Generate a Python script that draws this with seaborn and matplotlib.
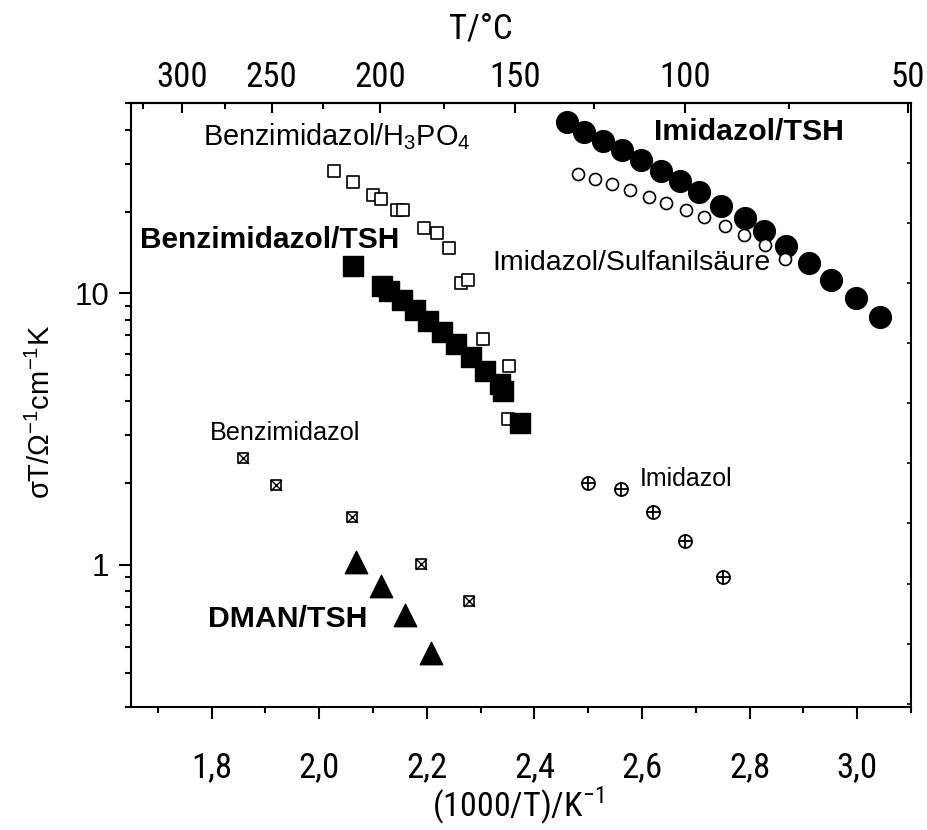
import numpy as np
import pandas as pd
import matplotlib
matplotlib.use("Agg")
import matplotlib.pyplot as plt
import seaborn as sns
from matplotlib import font_manager
from matplotlib.font_manager import FontProperties
from matplotlib.ticker import FixedLocator, NullFormatter, FixedFormatter

# ---------------- data ----------------
imid_tsh_x = [2.461, 2.493, 2.527, 2.563, 2.599, 2.635, 2.670, 2.706, 2.747, 2.791, 2.826, 2.868, 2.911, 2.952, 2.998, 3.043]
imid_tsh_y = [42.6, 39.4, 36.5, 33.8, 31.0, 28.3, 26.0, 23.7, 21.0, 18.9, 16.9, 14.9, 12.9, 11.2, 9.6, 8.2]

imid_sulf_x = [2.481, 2.512, 2.545, 2.578, 2.613, 2.645, 2.681, 2.716, 2.754, 2.789, 2.828, 2.865]
imid_sulf_y = [27.6, 26.4, 25.3, 24.0, 22.7, 21.5, 20.3, 19.1, 17.7, 16.4, 15.1, 13.4]

benz_h3po4_x = [2.027, 2.062, 2.099, 2.114, 2.144, 2.155, 2.194, 2.218, 2.241, 2.264, 2.277, 2.304, 2.352, 2.351]
benz_h3po4_y = [28.3, 25.6, 23.1, 22.2, 20.2, 20.3, 17.4, 16.7, 14.7, 10.9, 11.2, 6.80, 5.41, 3.45]

benz_tsh_x = [2.062, 2.116, 2.129, 2.153, 2.178, 2.202, 2.228, 2.254, 2.282, 2.309, 2.336, 2.341, 2.373]
benz_tsh_y = [12.6, 10.66, 10.2, 9.46, 8.70, 7.92, 7.21, 6.52, 5.84, 5.18, 4.64, 4.37, 3.33]

benz_x = [1.859, 1.919, 2.060, 2.189, 2.278]
benz_y = [2.47, 1.97, 1.50, 1.006, 0.737]

dman_x = [2.069, 2.114, 2.159, 2.207]
dman_y = [1.028, 0.837, 0.654, 0.473]

imid_x = [2.50, 2.56, 2.62, 2.68, 2.75]
imid_y = [2.01, 1.90, 1.57, 1.23, 0.905]

x_major = [1.8, 2.0, 2.2, 2.4, 2.6, 2.8, 3.0]
x_major_labels = ["1,8", "2,0", "2,2", "2,4", "2,6", "2,8", "3,0"]
x_minor = [1.7, 1.9, 2.1, 2.3, 2.5, 2.7, 2.9, 3.1]
y_major = [1, 10]
y_major_labels = ["1", "10"]
y_minor = [0.3, 0.4, 0.5, 0.6, 0.7, 0.8, 0.9, 2, 3, 4, 5, 6, 7, 8, 9, 20, 30, 40, 50]
t_major = [300, 250, 200, 150, 100, 50]
t_minor = [325, 275, 225, 175, 125, 75]

# ---------------- style ----------------
sns.set_style("ticks")
fm = font_manager.fontManager
names = {f.name for f in fm.ttflist}
REG = "Liberation Sans" if "Liberation Sans" in names else "DejaVu Sans"

# look for a condensed / narrow sans face
NARROW_PROP = None
for fam in ["Liberation Sans Narrow", "Arial Narrow", "Roboto Condensed", "Open Sans Condensed",
            "Noto Sans Condensed", "DejaVu Sans Condensed"]:
    if fam in names:
        NARROW_PROP = FontProperties(family=fam)
        break
if NARROW_PROP is None:
    for f in fm.ttflist:
        if f.stretch in ("condensed", "semi-condensed", "extra-condensed") and f.style == "normal" \
                and f.weight in (400, "normal", "regular") and "Mono" not in f.name \
                and "Serif" not in f.name:
            NARROW_PROP = FontProperties(fname=f.fname)
            break
if NARROW_PROP is not None:
    nsize = 25
    xpad = 23
else:
    NARROW_PROP = FontProperties(family=REG)
    nsize = 23
    xpad = 25

plt.rcParams["font.family"] = [REG, "DejaVu Sans"]
plt.rcParams["mathtext.fontset"] = "custom"
plt.rcParams["mathtext.rm"] = REG
plt.rcParams["axes.linewidth"] = 1.5
for k in ["text.color", "axes.labelcolor", "xtick.color", "ytick.color", "axes.edgecolor"]:
    plt.rcParams[k] = "black"

W, H = 928, 830
fig = plt.figure(figsize=(W / 100, H / 100), dpi=100)
L, R, T, B = 131, 911, 103.5, 707
ax = fig.add_axes([L / W, 1 - B / H, (R - L) / W, (B - T) / H])

def df(x, y):
    return pd.DataFrame({"x": x, "y": y})

# open squares Benzimidazol/H3PO4
sns.scatterplot(data=df(benz_h3po4_x, benz_h3po4_y), x="x", y="y", ax=ax, marker="s",
                s=85, color="white", edgecolor="black", linewidth=1.2, zorder=3)
# filled squares Benzimidazol/TSH
sns.scatterplot(data=df(benz_tsh_x, benz_tsh_y), x="x", y="y", ax=ax, marker="s",
                s=225, color="black", edgecolor="black", linewidth=1, zorder=4)
# filled circles Imidazol/TSH
sns.scatterplot(data=df(imid_tsh_x, imid_tsh_y), x="x", y="y", ax=ax, marker="o",
                s=245, color="black", edgecolor="black", linewidth=1, zorder=3)
# open circles Imidazol/Sulfanilsaeure
sns.scatterplot(data=df(imid_sulf_x, imid_sulf_y), x="x", y="y", ax=ax, marker="o",
                s=75, color="white", edgecolor="black", linewidth=1.2, zorder=4)
# crossed squares Benzimidazol
sns.scatterplot(data=df(benz_x, benz_y), x="x", y="y", ax=ax, marker="s",
                s=62, color="white", edgecolor="black", linewidth=1.2, zorder=3)
sns.scatterplot(data=df(benz_x, benz_y), x="x", y="y", ax=ax, marker="x",
                s=62, color="black", linewidth=1.0, zorder=4)
# triangles DMAN/TSH
sns.scatterplot(data=df(dman_x, dman_y), x="x", y="y", ax=ax, marker="^",
                s=260, color="black", edgecolor="black", linewidth=1, zorder=3)
# circle-plus Imidazol
sns.scatterplot(data=df(imid_x, imid_y), x="x", y="y", ax=ax, marker="o",
                s=88, color="white", edgecolor="black", linewidth=1.3, zorder=3)
sns.scatterplot(data=df(imid_x, imid_y), x="x", y="y", ax=ax, marker="+",
                s=88, color="black", linewidth=1.3, zorder=4)

ax.set_yscale("log")
ax.set_xlim(1.65, 3.1)
ax.set_ylim(0.3, 50)
ax.set_xlabel("")
ax.set_ylabel("")

ax.xaxis.set_major_locator(FixedLocator(x_major))
ax.xaxis.set_major_formatter(FixedFormatter(x_major_labels))
ax.xaxis.set_minor_locator(FixedLocator(x_minor))
ax.xaxis.set_minor_formatter(NullFormatter())
ax.yaxis.set_major_locator(FixedLocator(y_major))
ax.yaxis.set_major_formatter(FixedFormatter(y_major_labels))
ax.yaxis.set_minor_locator(FixedLocator(y_minor))
ax.yaxis.set_minor_formatter(NullFormatter())

for sp in ax.spines.values():
    sp.set_linewidth(1.5)
    sp.set_visible(True)
    sp.set_color("black")

ax.tick_params(axis="x", which="major", direction="out", length=8.5, width=1.5,
               pad=xpad, top=False)
ax.tick_params(axis="x", which="minor", direction="out", length=4.5, width=1.5, top=False)
ax.tick_params(axis="y", which="major", direction="out", length=8.5, width=1.5,
               pad=7, labelsize=22.5, right=False)
ax.tick_params(axis="y", which="minor", direction="out", length=4.5, width=1.5, right=False)
for lbl in ax.get_xticklabels():
    lbl.set_fontproperties(NARROW_PROP)
    lbl.set_fontsize(nsize)

# top temperature axis
secax = ax.secondary_xaxis("top", functions=(lambda x: 1000.0 / x - 273.15,
                                              lambda t: 1000.0 / (t + 273.15)))
secax.xaxis.set_major_locator(FixedLocator(t_major))
secax.xaxis.set_major_formatter(FixedFormatter([str(t) for t in t_major]))
secax.xaxis.set_minor_locator(FixedLocator(t_minor))
secax.xaxis.set_minor_formatter(NullFormatter())
secax.tick_params(axis="x", which="major", direction="in", length=7, width=1.5, pad=7)
secax.tick_params(axis="x", which="minor", direction="in", length=4, width=1.5)
secax.spines["top"].set_linewidth(1.5)
secax.spines["top"].set_color("black")
for lbl in secax.get_xticklabels():
    lbl.set_fontproperties(NARROW_PROP)
    lbl.set_fontsize(nsize)

# right-hand small ticks
ax2 = ax.twinx()
span = (B - T) / 60.0
ax2.set_ylim(0, span)
ax2.yaxis.set_major_locator(FixedLocator([span - k for k in range(1, 11)]))
ax2.yaxis.set_major_formatter(NullFormatter())
ax2.tick_params(axis="y", which="major", direction="in", length=3, width=1.2, right=True, left=False)
ax2.set_yticks([], minor=True)
for sp in ax2.spines.values():
    sp.set_visible(False)

# axis labels
tp = NARROW_PROP.copy()
tp.set_size(nsize)
tpx = NARROW_PROP.copy()
tpx.set_size(nsize - 0.5)
fig.text(481 / W, 1 - 29 / H, "T/°C", ha="center", va="center", fontproperties=tp)
fig.text(518 / W, 1 - 826 / H, "(1000/T)/K$^{\\mathregular{-1}}$", ha="center", va="bottom",
         fontproperties=tpx)
fig.text(41 / W, 1 - 412 / H, "σT/Ω$^{\\mathregular{-1}}$cm$^{\\mathregular{-1}}$K", ha="center",
         va="center", rotation=90, fontsize=21)

# series annotations
ax.text(1.784, 35.2, "Benzimidazol/H$_{\\mathregular{3}}$PO$_{\\mathregular{4}}$", fontsize=20.8,
        ha="left", va="baseline")
ax.text(2.623, 36.8, "Imidazol/TSH", fontsize=21.8, fontweight="bold", ha="left", va="baseline")
ax.text(1.667, 14.7, "Benzimidazol/TSH", fontsize=21.5, fontweight="bold", ha="left", va="baseline")
ax.text(2.3225, 12.2, "Imidazol/Sulfanilsäure", fontsize=20.5, ha="left", va="baseline", zorder=2)
ax.text(1.797, 2.887, "Benzimidazol", fontsize=18.2, ha="left", va="baseline")
ax.text(1.7936, 0.591, "DMAN/TSH", fontsize=21.8, fontweight="bold", ha="left", va="baseline")
ax.text(2.5956, 1.954, "Imidazol", fontsize=18, ha="left", va="baseline")

fig.savefig("out.png", dpi=100)
